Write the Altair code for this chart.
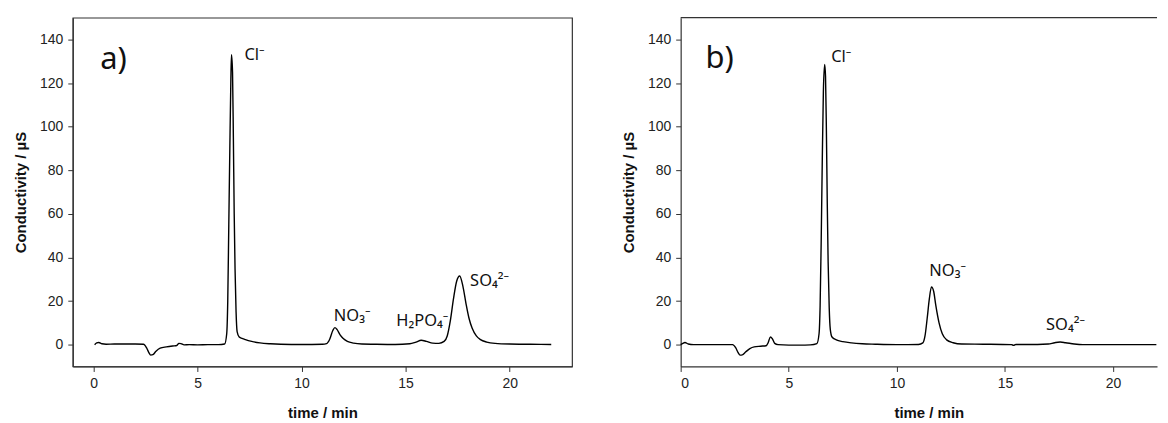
import altair as alt
import pandas as pd

# ---- panel a) chromatogram (time / min, conductivity / uS) ----
time_a = [0.05, 0.15, 0.25, 0.4, 0.6, 1.0, 1.5, 2.0, 2.4, 2.55, 2.65, 2.75, 2.85, 3.0, 3.2, 3.5,
          3.8, 4.0, 4.1, 4.2, 4.35, 4.6, 5.0, 5.5, 6.0, 6.3, 6.4, 6.45, 6.5, 6.55, 6.6, 6.63,
          6.68, 6.72, 6.76, 6.8, 6.85, 6.9, 7.0, 7.1, 7.3, 7.6, 8.0, 8.5, 9.0, 10.0, 11.0, 11.2,
          11.35, 11.5, 11.6, 11.7, 11.85, 12.0, 12.2, 12.5, 12.9, 13.5, 14.5, 15.2, 15.5, 15.75,
          16.0, 16.3, 16.6, 16.85, 17.0, 17.15, 17.3, 17.45, 17.6, 17.75, 17.9, 18.05, 18.2, 18.4,
          18.6, 18.9, 19.3, 20.0, 21.0, 22.0]
cond_a = [0.0, 0.8, 1.0, 0.4, 0.2, 0.3, 0.3, 0.3, 0.2, -1.5, -3.5, -4.8, -4.6, -3.0, -1.6, -1.0,
          -0.6, -0.4, 0.6, 0.5, -0.1, 0.0, -0.1, 0.0, 0.0, 0.3, 5.0, 20.0, 55.0, 90.0, 122.0, 133.0,
          125.0, 95.0, 60.0, 35.0, 15.0, 6.0, 3.5, 3.0, 2.3, 1.5, 0.8, 0.4, 0.2, 0.1, 0.2, 0.5,
          2.5, 6.5, 7.8, 7.0, 4.5, 2.8, 1.5, 0.7, 0.3, 0.2, 0.1, 0.4, 1.2, 2.0,
          1.5, 0.7, 0.6, 1.5, 4.0, 11.0, 21.0, 29.0, 31.5, 27.0, 19.0, 12.0, 7.5, 4.0,
          2.3, 1.2, 0.6, 0.3, 0.2, 0.1]

# ---- panel b) chromatogram ----
time_b = [0.0, 0.1, 0.2, 0.35, 0.6, 1.5, 2.4, 2.55, 2.65, 2.75, 2.85, 3.0, 3.2, 3.4, 3.7, 3.95,
          4.05, 4.15, 4.25, 4.35, 4.5, 5.0, 5.5, 6.0, 6.3, 6.4, 6.45, 6.5, 6.55, 6.6, 6.66, 6.7,
          6.74, 6.78, 6.82, 6.87, 6.92, 7.0, 7.2, 7.5, 7.9, 8.4, 9.0, 10.0, 11.0, 11.2, 11.3,
          11.4, 11.5, 11.6, 11.7, 11.8, 11.95, 12.1, 12.3, 12.6, 13.0, 14.0, 15.3, 15.4, 15.5,
          16.5, 17.0, 17.3, 17.55, 17.8, 18.2, 18.6, 20.0, 22.0]
cond_b = [0.0, 0.6, 1.0, 0.3, 0.0, 0.0, 0.0, -1.5, -3.5, -4.8, -4.7, -3.4, -1.8, -1.0, -0.7, -0.5,
          1.0, 3.6, 2.5, 0.6, 0.0, -0.2, -0.2, -0.1, 0.5, 5.0, 18.0, 48.0, 85.0, 116.0, 128.5, 123.0,
          98.0, 65.0, 38.0, 17.0, 7.0, 3.5, 2.2, 1.4, 0.8, 0.4, 0.2, 0.0, 0.1, 0.8, 4.0,
          12.0, 21.0, 26.5, 24.5, 18.0, 10.0, 5.0, 2.2, 0.9, 0.3, 0.2, 0.0, -0.3, 0.1,
          0.1, 0.3, 0.9, 1.2, 0.9, 0.3, 0.0, 0.0, 0.0]

# ---- peak labels ----
ions_a = ["Cl⁻", "NO₃⁻", "H₂PO₄⁻", "SO₄²⁻"]
ion_x_a = [7.25, 11.55, 14.55, 18.1]
ion_y_a = [130.5, 11.0, 8.7, 27.0]
ions_b = ["Cl⁻", "NO₃⁻", "SO₄²⁻"]
ion_x_b = [6.96, 11.5, 16.9]
ion_y_b = [129.7, 31.5, 6.8]

panel_letters = ["a)", "b)"]
letter_x = [0.32, 1.15]
letter_y = [126.6, 127.0]

x_ticks = [0, 5, 10, 15, 20]
y_ticks = [0, 20, 40, 60, 80, 100, 120, 140]

df_a = pd.DataFrame({"t": time_a, "c": cond_a})
df_b = pd.DataFrame({"t": time_b, "c": cond_b})
lab_a = pd.DataFrame({"t": ion_x_a, "c": ion_y_a, "txt": ions_a})
lab_b = pd.DataFrame({"t": ion_x_b, "c": ion_y_b, "txt": ions_b})
let_a = pd.DataFrame({"t": [letter_x[0]], "c": [letter_y[0]], "txt": [panel_letters[0]]})
let_b = pd.DataFrame({"t": [letter_x[1]], "c": [letter_y[1]], "txt": [panel_letters[1]]})

H = 350
W_A = 501
W_B = 478

y_scale = alt.Scale(domain=[-10, 150], nice=False, zero=False)
y_axis = alt.Axis(values=y_ticks, title="Conductivity / µS", titlePadding=11)


def panel(df, labs, lets, x_domain, title_x=None):
    if title_x is None:
        x_axis = alt.Axis(values=x_ticks, title="time / min")
    else:
        x_axis = alt.Axis(values=x_ticks, title="time / min", titleX=title_x)
    xs = alt.Scale(domain=x_domain, nice=False, zero=False)
    line = alt.Chart(df).mark_line(color="black", strokeWidth=1.4, interpolate="monotone").encode(
        x=alt.X("t:Q", scale=xs, axis=x_axis),
        y=alt.Y("c:Q", scale=y_scale, axis=y_axis),
    )
    ions = alt.Chart(labs).mark_text(
        align="left", baseline="alphabetic", font="Noto Sans", fontSize=16.5, color="#111"
    ).encode(x=alt.X("t:Q", scale=xs), y=alt.Y("c:Q", scale=y_scale), text="txt:N")
    letter = alt.Chart(lets).mark_text(
        align="left", baseline="alphabetic", font="Noto Sans", fontSize=31, color="#111"
    ).encode(x=alt.X("t:Q", scale=xs), y=alt.Y("c:Q", scale=y_scale), text="txt:N")
    return [line, ions, letter]


left = alt.layer(*panel(df_a, lab_a, let_a, [-1, 23])).properties(
    width=W_A, height=H, view=alt.ViewBackground(stroke="#333", strokeWidth=1.2)
)

top_line = alt.Chart(pd.DataFrame({"k": [0]})).mark_rule(color="#333", strokeWidth=1.2).encode(
    x=alt.value(0), x2=alt.value(W_B), y=alt.value(0)
)
right = alt.layer(*panel(df_b, lab_b, let_b, [0, 22.03], title_x=249), top_line).properties(
    width=W_B, height=H, view=alt.ViewBackground(stroke="transparent")
)

chart = alt.hconcat(left, right, spacing=48).properties(
    padding={"left": 5, "top": 7, "right": 0, "bottom": 0}
).configure_axis(
    grid=False,
    domainColor="#333",
    domainWidth=1.2,
    tickColor="#333",
    tickSize=5,
    labelFont="Liberation Sans",
    labelFontSize=14,
    labelColor="#222",
    labelPadding=5,
    titleFont="Liberation Sans",
    titleFontSize=15,
    titleFontWeight="bold",
    titleColor="#111",
).configure_axisX(titlePadding=15).configure_view(stroke="#333")

chart.save("out.html", embed_options={"renderer": "svg", "actions": False})
